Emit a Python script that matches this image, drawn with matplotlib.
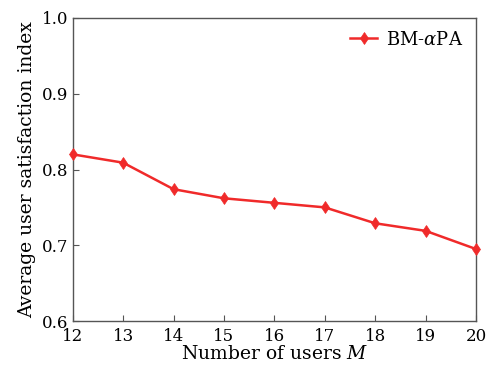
import matplotlib
matplotlib.use("Agg")
import matplotlib.pyplot as plt

# Data
users = [12, 13, 14, 15, 16, 17, 18, 19, 20]
satisfaction = [0.820, 0.809, 0.774, 0.762, 0.756, 0.750, 0.729, 0.719, 0.695]
y_ticks = [0.6, 0.7, 0.8, 0.9, 1.0]

plt.rcParams['font.family'] = ['DejaVu Serif']
plt.rcParams['mathtext.fontset'] = 'dejavuserif'

fig = plt.figure(figsize=(4.93, 3.70), dpi=100)
ax = fig.add_axes([72.7 / 493, 1 - 321 / 370, (476 - 72.7) / 493, (321 - 18) / 370])

ax.plot(users, satisfaction, color='#f02a2a', lw=1.8, marker='d', ms=6.5, mew=0.5,
        label=r'BM-$\alpha$PA', clip_on=False, zorder=3)

ax.set_xlim(12, 20)
ax.set_ylim(0.6, 1.0)
ax.set_xticks(users)
ax.set_yticks(y_ticks)
ax.set_yticklabels([f'{v:.1f}' for v in y_ticks])
ax.tick_params(direction='in', labelsize=12, length=4, color='#555555')
ax.tick_params(axis='x', pad=5)
ax.tick_params(axis='y', pad=3)
for s in ax.spines.values():
    s.set_color('#555555')
    s.set_linewidth(1.0)

ax.set_xlabel(r'Number of users $M$', fontsize=13.5, labelpad=0)
ax.set_ylabel('Average user satisfaction index', fontsize=13.5, labelpad=4)
ax.legend(loc='upper right', frameon=False, fontsize=13, handlelength=1.5,
          handletextpad=0.5, borderaxespad=0.3)

fig.savefig('out.png', dpi=100)
